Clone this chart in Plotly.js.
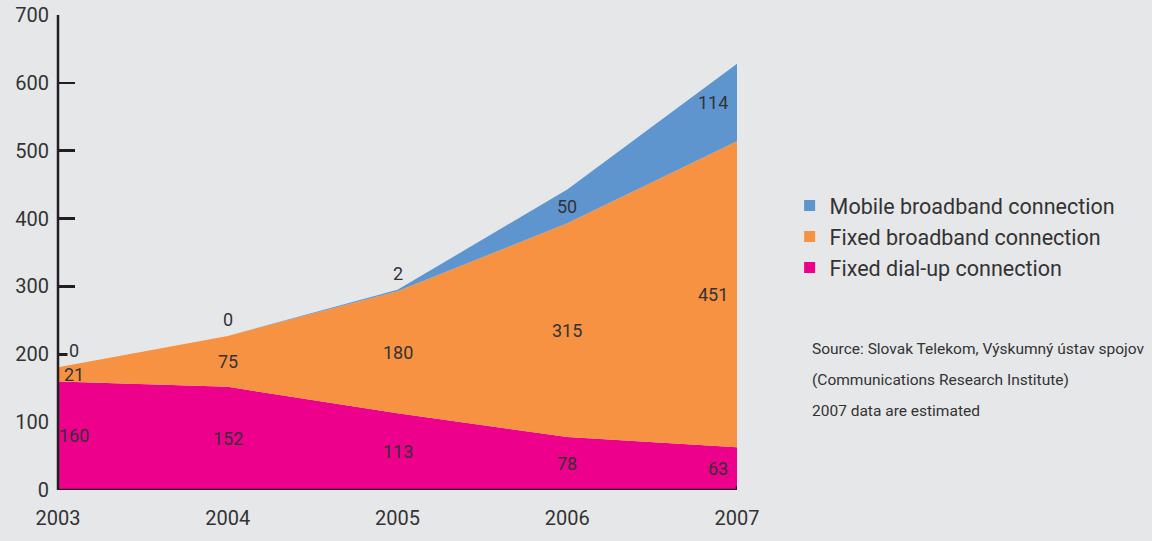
<!DOCTYPE html>
<html><head><meta charset="utf-8">
<script src="https://cdn.plot.ly/plotly-3.0.1.min.js"></script>
<style>html,body{margin:0;padding:0;background:#e6e7e8;}#chart{width:1152px;height:541px;}</style>
</head><body><div id="chart"></div>
<script>
const years = [2003, 2004, 2005, 2006, 2007];
const dialup = [160, 152, 113, 78, 63];
const fixedBB = [21, 75, 180, 315, 451];
const mobileBB = [0, 0, 2, 50, 114];
const seriesNames = ["Fixed dial-up connection", "Fixed broadband connection", "Mobile broadband connection"];
const seriesColors = ["#ec008c", "#f79243", "#5f95cf"];
const sourceLines = ["Source: Slovak Telekom, Výskumný ústav spojov", "(Communications Research Institute)", "2007 data are estimated"];

const FONT = 'Roboto, "Liberation Sans", sans-serif';
const TXT = '#333333';
const AXC = '#231f20';
const series = [dialup, fixedBB, mobileBB];

const traces = [];
series.forEach((vals, i) => {
  traces.push({
    x: years, y: vals, type: 'scatter', mode: 'lines', stackgroup: 'one',
    line: {width: 0, color: seriesColors[i]}, fillcolor: seriesColors[i],
    showlegend: false, hoverinfo: 'skip'
  });
});
[2, 1, 0].forEach(i => {
  traces.push({
    x: [null], y: [null], type: 'scatter', mode: 'markers', name: seriesNames[i],
    marker: {symbol: 'square', size: 11, color: seriesColors[i]}, showlegend: true
  });
});

const annotations = [];
years.forEach((yr, j) => {
  let base = 0;
  series.forEach((vals, i) => {
    const v = vals[j];
    const small = (i === 2 && v < 20);
    const ann = {
      x: yr, y: small ? base + v : base + v / 2, xref: 'x', yref: 'y',
      text: String(v), showarrow: false,
      font: {family: FONT, size: 18, color: TXT},
      xanchor: 'center', yanchor: small ? 'bottom' : 'middle'
    };
    if (small) { ann.yshift = 4; ann.bgcolor = '#e6e7e8'; }
    if (j === 0) { ann.xshift = 16; }
    if (j === years.length - 1) { ann.xanchor = 'right'; ann.xshift = -7; }
    annotations.push(ann);
    base += v;
  });
});
sourceLines.forEach((t, k) => {
  annotations.push({
    xref: 'paper', yref: 'paper', x: 1.108, y: (490 - (349 + k * 31)) / 475,
    xanchor: 'left', yanchor: 'middle', text: t, showarrow: false,
    font: {family: FONT, size: 15.5, color: TXT}
  });
});

const layout = {
  width: 1152, height: 541,
  margin: {l: 58, r: 415, t: 15, b: 51},
  paper_bgcolor: '#e6e7e8', plot_bgcolor: '#e6e7e8',
  font: {family: FONT, color: TXT},
  showlegend: true,
  legend: {
    x: 1.0775, y: 0.642, xanchor: 'left', yanchor: 'top',
    font: {family: FONT, size: 21.5, color: TXT}, bgcolor: 'rgba(0,0,0,0)',
    itemwidth: 30, traceorder: 'normal', tracegroupgap: 0
  },
  xaxis: {
    range: [2003, 2007], tickvals: years, ticktext: years.map(String),
    showgrid: false, zeroline: false, showline: false,
    ticks: '', tickfont: {family: FONT, size: 20, color: TXT}, ticklabelstandoff: 14
  },
  yaxis: {
    range: [0, 700], dtick: 100, showgrid: false, zeroline: false,
    showline: false, layer: 'below traces',
    ticks: 'inside', ticklen: 17, tickwidth: 2.5, tickcolor: AXC,
    tickfont: {family: FONT, size: 20, color: TXT}, ticklabelstandoff: 8
  },
  shapes: [
    {type: 'line', xref: 'paper', yref: 'y', x0: 0, x1: 0, y0: 0, y1: 700, line: {color: AXC, width: 2.5}},
    {type: 'line', xref: 'paper', yref: 'y', x0: 0, x1: 1, y0: 0, y1: 0, line: {color: AXC, width: 2.5}},
    {type: 'line', xref: 'x', yref: 'y', x0: 2007, x1: 2007, y0: 0, y1: 6, line: {color: AXC, width: 2.5}}
  ],
  annotations: annotations
};
Plotly.newPlot('chart', traces, layout, {displayModeBar: false, staticPlot: true});
</script>
</body></html>
